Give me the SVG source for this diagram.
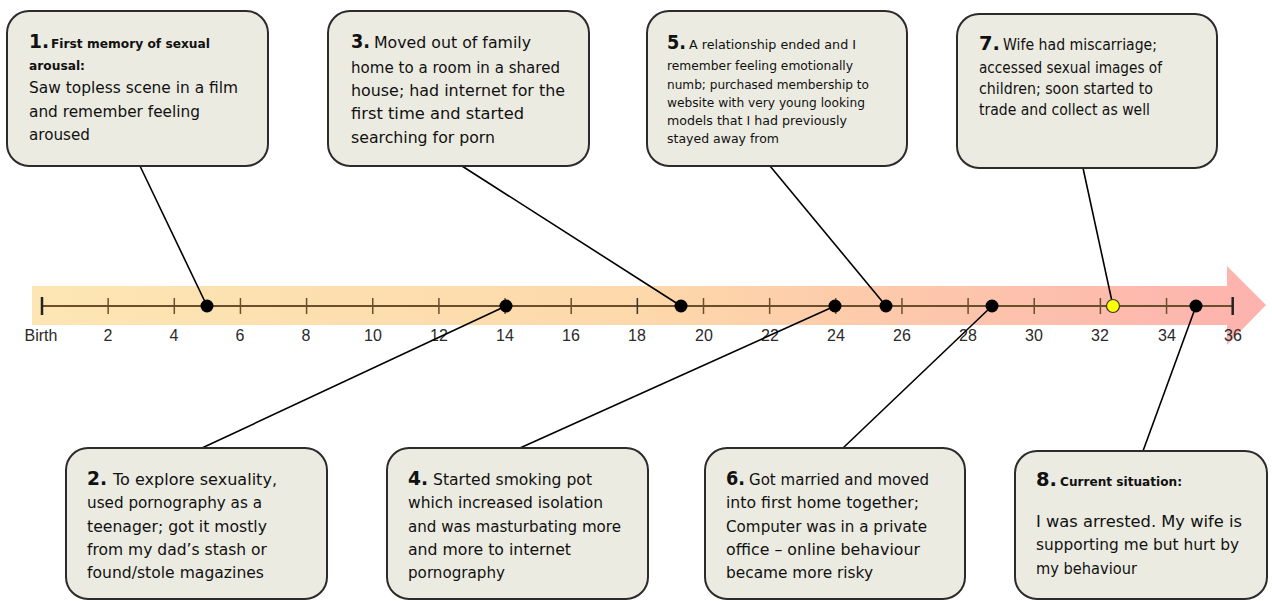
<svg xmlns="http://www.w3.org/2000/svg" width="1272" height="601" viewBox="0 0 1272 601">
<style>
.box{fill:#ECEBE1;stroke:#2b2b2b;stroke-width:2}
.t{font-family:"DejaVu Sans","Liberation Sans",sans-serif;font-size:15px;fill:#111}
.s{font-size:12.5px}
.b{font-weight:bold}
.n{font-family:"DejaVu Sans","Liberation Sans",sans-serif;font-size:20px;font-weight:bold;fill:#111}
.ax{font-family:"Liberation Sans",Arial,sans-serif;font-size:16px;fill:#2a2a2a;text-anchor:middle}
.tick{stroke:#6b4f2a;stroke-width:1.5}
.con{stroke:#000;stroke-width:1.6;fill:none}
.dot{fill:#000}
</style>
<defs>
<linearGradient id="band" x1="32" y1="0" x2="1266" y2="0" gradientUnits="userSpaceOnUse">
<stop offset="0" stop-color="#FDE6B4"/>
<stop offset="0.5" stop-color="#FDD8AA"/>
<stop offset="1" stop-color="#FDB2AE"/>
</linearGradient>
</defs>

<g id="timeline">
<path d="M32 286 H1227 V266 L1266 305 L1227 345 V325 H32 Z" fill="url(#band)"/>
<line x1="42" y1="306" x2="1233" y2="306" stroke="#6b4f2a" stroke-width="2"/>
<g>
<line class="tick" x1="42" y1="297" x2="42" y2="315" style="stroke:#222;stroke-width:2.5"/>
<line class="tick" x1="108.15" y1="298" x2="108.15" y2="314"/>
<line class="tick" x1="174.3" y1="298" x2="174.3" y2="314"/>
<line class="tick" x1="240.45" y1="298" x2="240.45" y2="314"/>
<line class="tick" x1="306.6" y1="298" x2="306.6" y2="314"/>
<line class="tick" x1="372.75" y1="298" x2="372.75" y2="314"/>
<line class="tick" x1="438.9" y1="298" x2="438.9" y2="314"/>
<line class="tick" x1="505.05" y1="298" x2="505.05" y2="314"/>
<line class="tick" x1="571.2" y1="298" x2="571.2" y2="314"/>
<line class="tick" x1="637.35" y1="298" x2="637.35" y2="314" style="stroke:#333"/>
<line class="tick" x1="703.5" y1="298" x2="703.5" y2="314"/>
<line class="tick" x1="769.65" y1="298" x2="769.65" y2="314"/>
<line class="tick" x1="835.8" y1="298" x2="835.8" y2="314"/>
<line class="tick" x1="901.95" y1="298" x2="901.95" y2="314"/>
<line class="tick" x1="968.1" y1="298" x2="968.1" y2="314"/>
<line class="tick" x1="1034.25" y1="298" x2="1034.25" y2="314"/>
<line class="tick" x1="1100.4" y1="298" x2="1100.4" y2="314"/>
<line class="tick" x1="1166.55" y1="298" x2="1166.55" y2="314"/>
<line class="tick" x1="1232.7" y1="297" x2="1232.7" y2="315" style="stroke:#222;stroke-width:2.5"/>
</g>
<g>
<text class="ax" x="41" y="341">Birth</text>
<text class="ax" x="108" y="341">2</text>
<text class="ax" x="174" y="341">4</text>
<text class="ax" x="240" y="341">6</text>
<text class="ax" x="306" y="341">8</text>
<text class="ax" x="373" y="341">10</text>
<text class="ax" x="439" y="341">12</text>
<text class="ax" x="505" y="341">14</text>
<text class="ax" x="571" y="341">16</text>
<text class="ax" x="637" y="341">18</text>
<text class="ax" x="704" y="341">20</text>
<text class="ax" x="770" y="341">22</text>
<text class="ax" x="836" y="341">24</text>
<text class="ax" x="902" y="341">26</text>
<text class="ax" x="968" y="341">28</text>
<text class="ax" x="1034" y="341">30</text>
<text class="ax" x="1100" y="341">32</text>
<text class="ax" x="1167" y="341">34</text>
<text class="ax" x="1233" y="341">36</text>
</g>
</g>

<g id="connectors">
<line class="con" x1="140" y1="166" x2="207" y2="306"/>
<line class="con" x1="462" y1="166" x2="681" y2="306"/>
<line class="con" x1="770" y1="166" x2="886" y2="306"/>
<line class="con" x1="1083" y1="168" x2="1113" y2="306"/>
<line class="con" x1="202" y1="448" x2="506" y2="306"/>
<line class="con" x1="520" y1="448" x2="835" y2="306"/>
<line class="con" x1="843" y1="448" x2="992" y2="306"/>
<line class="con" x1="1143" y1="451" x2="1196" y2="306"/>
</g>

<g id="dots">
<circle class="dot" cx="207" cy="306" r="6.5"/>
<circle class="dot" cx="506" cy="306" r="6.5"/>
<circle class="dot" cx="681" cy="306" r="6.5"/>
<circle class="dot" cx="835" cy="306" r="6.5"/>
<circle class="dot" cx="886" cy="306" r="6.5"/>
<circle class="dot" cx="992" cy="306" r="6.5"/>
<circle cx="1113" cy="306" r="6.5" fill="#FFFF00" stroke="#333" stroke-width="1.2"/>
<circle class="dot" cx="1196" cy="306" r="6.5"/>
</g>

<g id="node1">
<rect class="box" x="7" y="11" width="261" height="155" rx="22"/>
<text class="n" x="29" y="48" textLength="20" lengthAdjust="spacingAndGlyphs">1.</text>
<text class="t s b" x="51" y="48" textLength="159" lengthAdjust="spacingAndGlyphs">First memory of sexual</text>
<text class="t s b" x="29" y="70" textLength="56" lengthAdjust="spacingAndGlyphs">arousal:</text>
<text class="t" x="29" y="93" textLength="209" lengthAdjust="spacingAndGlyphs">Saw topless scene in a film</text>
<text class="t" x="29" y="117" textLength="171" lengthAdjust="spacingAndGlyphs">and remember feeling</text>
<text class="t" x="29" y="140" textLength="61" lengthAdjust="spacingAndGlyphs">aroused</text>
</g>

<g id="node3">
<rect class="box" x="328" y="11" width="261" height="155" rx="22"/>
<text class="n" x="351" y="48" textLength="19" lengthAdjust="spacingAndGlyphs">3.</text>
<text class="t" x="374" y="48" textLength="157" lengthAdjust="spacingAndGlyphs">Moved out of family</text>
<text class="t" x="351" y="73" textLength="209" lengthAdjust="spacingAndGlyphs">home to a room in a shared</text>
<text class="t" x="351" y="96" textLength="214" lengthAdjust="spacingAndGlyphs">house; had internet for the</text>
<text class="t" x="351" y="119" textLength="173" lengthAdjust="spacingAndGlyphs">first time and started</text>
<text class="t" x="351" y="143" textLength="144" lengthAdjust="spacingAndGlyphs">searching for porn</text>
</g>

<g id="node5">
<rect class="box" x="647" y="11" width="260" height="155" rx="22"/>
<text class="n" x="667" y="49" textLength="19" lengthAdjust="spacingAndGlyphs">5.</text>
<text class="t s" x="689" y="49" textLength="167" lengthAdjust="spacingAndGlyphs">A relationship ended and I</text>
<text class="t s" x="667" y="70" textLength="186" lengthAdjust="spacingAndGlyphs">remember feeling emotionally</text>
<text class="t s" x="667" y="89" textLength="202" lengthAdjust="spacingAndGlyphs">numb; purchased membership to</text>
<text class="t s" x="667" y="107" textLength="198" lengthAdjust="spacingAndGlyphs">website with very young looking</text>
<text class="t s" x="667" y="125" textLength="180" lengthAdjust="spacingAndGlyphs">models that I had previously</text>
<text class="t s" x="667" y="143" textLength="112" lengthAdjust="spacingAndGlyphs">stayed away from</text>
</g>

<g id="node7">
<rect class="box" x="957" y="14" width="260" height="154" rx="22"/>
<text class="n" x="979" y="50" textLength="21" lengthAdjust="spacingAndGlyphs">7.</text>
<text class="t" x="1003" y="50" textLength="154" lengthAdjust="spacingAndGlyphs">Wife had miscarriage;</text>
<text class="t" x="979" y="73" textLength="183" lengthAdjust="spacingAndGlyphs">accessed sexual images of</text>
<text class="t" x="979" y="94" textLength="174" lengthAdjust="spacingAndGlyphs">children; soon started to</text>
<text class="t" x="979" y="115" textLength="171" lengthAdjust="spacingAndGlyphs">trade and collect as well</text>
</g>

<g id="node2">
<rect class="box" x="66" y="448" width="261" height="151" rx="22"/>
<text class="n" x="87" y="485" textLength="20" lengthAdjust="spacingAndGlyphs">2.</text>
<text class="t" x="113" y="485" textLength="164" lengthAdjust="spacingAndGlyphs">To explore sexuality,</text>
<text class="t" x="87" y="508" textLength="175" lengthAdjust="spacingAndGlyphs">used pornography as a</text>
<text class="t" x="87" y="532" textLength="180" lengthAdjust="spacingAndGlyphs">teenager; got it mostly</text>
<text class="t" x="87" y="555" textLength="180" lengthAdjust="spacingAndGlyphs">from my dad’s stash or</text>
<text class="t" x="87" y="578" textLength="177" lengthAdjust="spacingAndGlyphs">found/stole magazines</text>
</g>

<g id="node4">
<rect class="box" x="387" y="448" width="261" height="151" rx="22"/>
<text class="n" x="408" y="485" textLength="20" lengthAdjust="spacingAndGlyphs">4.</text>
<text class="t" x="433" y="485" textLength="159" lengthAdjust="spacingAndGlyphs">Started smoking pot</text>
<text class="t" x="408" y="508" textLength="195" lengthAdjust="spacingAndGlyphs">which increased isolation</text>
<text class="t" x="408" y="532" textLength="213" lengthAdjust="spacingAndGlyphs">and was masturbating more</text>
<text class="t" x="408" y="555" textLength="163" lengthAdjust="spacingAndGlyphs">and more to internet</text>
<text class="t" x="408" y="578" textLength="97" lengthAdjust="spacingAndGlyphs">pornography</text>
</g>

<g id="node6">
<rect class="box" x="705" y="448" width="260" height="151" rx="22"/>
<text class="n" x="726" y="485" textLength="19" lengthAdjust="spacingAndGlyphs">6.</text>
<text class="t" x="749" y="485" textLength="180" lengthAdjust="spacingAndGlyphs">Got married and moved</text>
<text class="t" x="726" y="508" textLength="193" lengthAdjust="spacingAndGlyphs">into first home together;</text>
<text class="t" x="726" y="532" textLength="201" lengthAdjust="spacingAndGlyphs">Computer was in a private</text>
<text class="t" x="726" y="555" textLength="194" lengthAdjust="spacingAndGlyphs">office – online behaviour</text>
<text class="t" x="726" y="578" textLength="147" lengthAdjust="spacingAndGlyphs">became more risky</text>
</g>

<g id="node8">
<rect class="box" x="1015" y="451" width="252" height="148" rx="22"/>
<text class="n" x="1036" y="486" textLength="21" lengthAdjust="spacingAndGlyphs">8.</text>
<text class="t s b" x="1060" y="486" textLength="122" lengthAdjust="spacingAndGlyphs">Current situation:</text>
<text class="t" x="1036" y="527" textLength="206" lengthAdjust="spacingAndGlyphs">I was arrested. My wife is</text>
<text class="t" x="1036" y="550" textLength="203" lengthAdjust="spacingAndGlyphs">supporting me but hurt by</text>
<text class="t" x="1036" y="574" textLength="101" lengthAdjust="spacingAndGlyphs">my behaviour</text>
</g>
</svg>
